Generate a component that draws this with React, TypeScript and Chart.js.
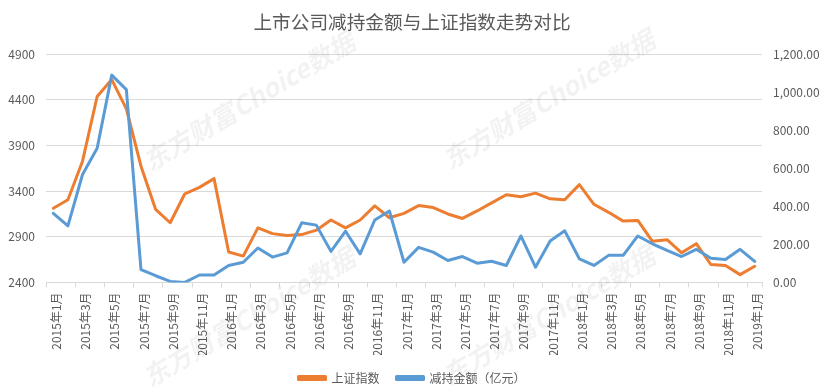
import React, { useEffect, useRef } from "react";
import { Chart, registerables } from "chart.js";

Chart.register(...registerables);

const categories = [
  "2015年1月", "2015年2月", "2015年3月", "2015年4月", "2015年5月", "2015年6月",
  "2015年7月", "2015年8月", "2015年9月", "2015年10月", "2015年11月", "2015年12月",
  "2016年1月", "2016年2月", "2016年3月", "2016年4月", "2016年5月", "2016年6月",
  "2016年7月", "2016年8月", "2016年9月", "2016年10月", "2016年11月", "2016年12月",
  "2017年1月", "2017年2月", "2017年3月", "2017年4月", "2017年5月", "2017年6月",
  "2017年7月", "2017年8月", "2017年9月", "2017年10月", "2017年11月", "2017年12月",
  "2018年1月", "2018年2月", "2018年3月", "2018年4月", "2018年5月", "2018年6月",
  "2018年7月", "2018年8月", "2018年9月", "2018年10月", "2018年11月", "2018年12月",
  "2019年1月",
];

const sseIndex = [
  3211, 3304, 3727, 4435, 4620, 4299, 3672, 3200, 3053, 3370, 3440, 3536,
  2732, 2688, 2997, 2934, 2913, 2923, 2972, 3083, 2997, 3083, 3237, 3108,
  3156, 3241, 3219, 3149, 3100, 3182, 3270, 3359, 3337, 3377, 3315, 3304,
  3470, 3255, 3167, 3071, 3078, 2850, 2868, 2724, 2824, 2596, 2585, 2485,
  2577,
];

const reduceAmount = [
  363, 297, 567, 705, 1089, 1013, 67, 35, 5, 0, 39, 39,
  89, 106, 181, 133, 155, 313, 301, 163, 269, 150, 328, 375,
  106, 184, 159, 115, 136, 101, 111, 89, 244, 80, 218, 271,
  124, 89, 142, 142, 244, 203, 168, 136, 174, 127, 120, 174,
  110,
];

const titleText = "上市公司减持金额与上证指数走势对比";
const seriesNames = ["上证指数", "减持金额（亿元）"];
const watermarkText = "东方财富Choice数据";
const watermarkSpots = [
  [150, 172],
  [450, 170],
  [150, 388],
  [450, 386],
];

const FONT = "'Microsoft YaHei', 'Noto Sans CJK SC', sans-serif";
const TEXT = "#595959";
const GRID = "#d9d9d9";

const watermarkPlugin = {
  id: "watermark",
  beforeDatasetsDraw(chart: any) {
    const ctx = chart.ctx;
    ctx.save();
    ctx.font = `bold italic 26px ${FONT}`;
    ctx.fillStyle = "rgba(0,0,0,0.05)";
    ctx.textAlign = "left";
    ctx.textBaseline = "alphabetic";
    for (const [x, y] of watermarkSpots) {
      ctx.save();
      ctx.translate(x, y);
      ctx.rotate((-31 * Math.PI) / 180);
      ctx.fillText(watermarkText, 0, 0);
      ctx.restore();
    }
    ctx.restore();
  },
};

export default function App() {
  const ref = useRef<HTMLCanvasElement | null>(null);

  useEffect(() => {
    document.body.style.margin = "0";
    const canvas = ref.current;
    if (!canvas) return;
    Chart.defaults.font.family = FONT;
    Chart.defaults.color = TEXT;
    const chart = new Chart(canvas, {
      type: "line",
      data: {
        labels: categories,
        datasets: [
          {
            label: seriesNames[0],
            data: sseIndex,
            yAxisID: "y",
            borderColor: "#ED7D31",
            backgroundColor: "#ED7D31",
            borderWidth: 3,
            pointRadius: 0,
            tension: 0,
            borderJoinStyle: "round",
            borderCapStyle: "round",
            order: 1,
          },
          {
            label: seriesNames[1],
            data: reduceAmount,
            yAxisID: "y1",
            borderColor: "#5B9BD5",
            backgroundColor: "#5B9BD5",
            borderWidth: 3,
            pointRadius: 0,
            tension: 0,
            borderJoinStyle: "round",
            borderCapStyle: "round",
            order: 0,
          },
        ],
      },
      options: {
        animation: false,
        responsive: false,
        maintainAspectRatio: false,
        layout: { padding: { left: 0, right: 0, top: 0, bottom: -6 } },
        plugins: {
          title: {
            display: true,
            text: titleText,
            color: TEXT,
            font: { size: 18.67, weight: "normal", family: FONT },
            padding: { top: 10.8, bottom: 20.8 },
          },
          legend: {
            display: true,
            position: "bottom",
            labels: {
              boxWidth: 27,
              boxHeight: 3,
              padding: 17,
              color: TEXT,
              font: { size: 12, family: FONT },
              sort: (a: any, b: any) => a.datasetIndex - b.datasetIndex,
            },
          },
          tooltip: { enabled: false },
        },
        scales: {
          x: {
            type: "category",
            offset: true,
            grid: {
              display: true,
              offset: true,
              drawOnChartArea: false,
              drawTicks: true,
              tickLength: 5,
              color: (c: any) =>
                c.index === undefined || c.index % 2 === 0 ? GRID : "rgba(0,0,0,0)",
            },
            border: { display: true, color: GRID, width: 1 },
            ticks: {
              autoSkip: false,
              maxRotation: 90,
              minRotation: 90,
              padding: 5,
              labelOffset: 3,
              color: TEXT,
              font: { size: 12, family: FONT },
              callback: (_v: any, i: number) => (i % 2 === 0 ? categories[i] : ""),
            },
            afterFit: (s: any) => {
              s.height = 72.6;
            },
          },
          y: {
            position: "left",
            min: 2400,
            max: 4900,
            grid: { color: GRID, drawTicks: false },
            border: { display: false },
            ticks: {
              stepSize: 500,
              padding: 11,
              color: TEXT,
              font: { size: 12, family: FONT },
              callback: (v: any) => String(v),
            },
            afterFit: (s: any) => {
              s.width = 46;
            },
          },
          y1: {
            position: "right",
            min: 0,
            max: 1200,
            grid: { display: false, drawTicks: false },
            border: { display: false },
            ticks: {
              stepSize: 200,
              padding: 11,
              color: TEXT,
              font: { size: 12, family: FONT },
              callback: (v: any) =>
                Number(v).toLocaleString("en-US", {
                  minimumFractionDigits: 2,
                  maximumFractionDigits: 2,
                }),
            },
            afterFit: (s: any) => {
              s.width = 62;
            },
          },
        },
      },
      plugins: [watermarkPlugin],
    } as any);
    return () => chart.destroy();
  }, []);

  return (
    <div style={{ width: 824, height: 388, background: "#fff" }}>
      <canvas ref={ref} width={824} height={388} style={{ display: "block" }} />
    </div>
  );
}
